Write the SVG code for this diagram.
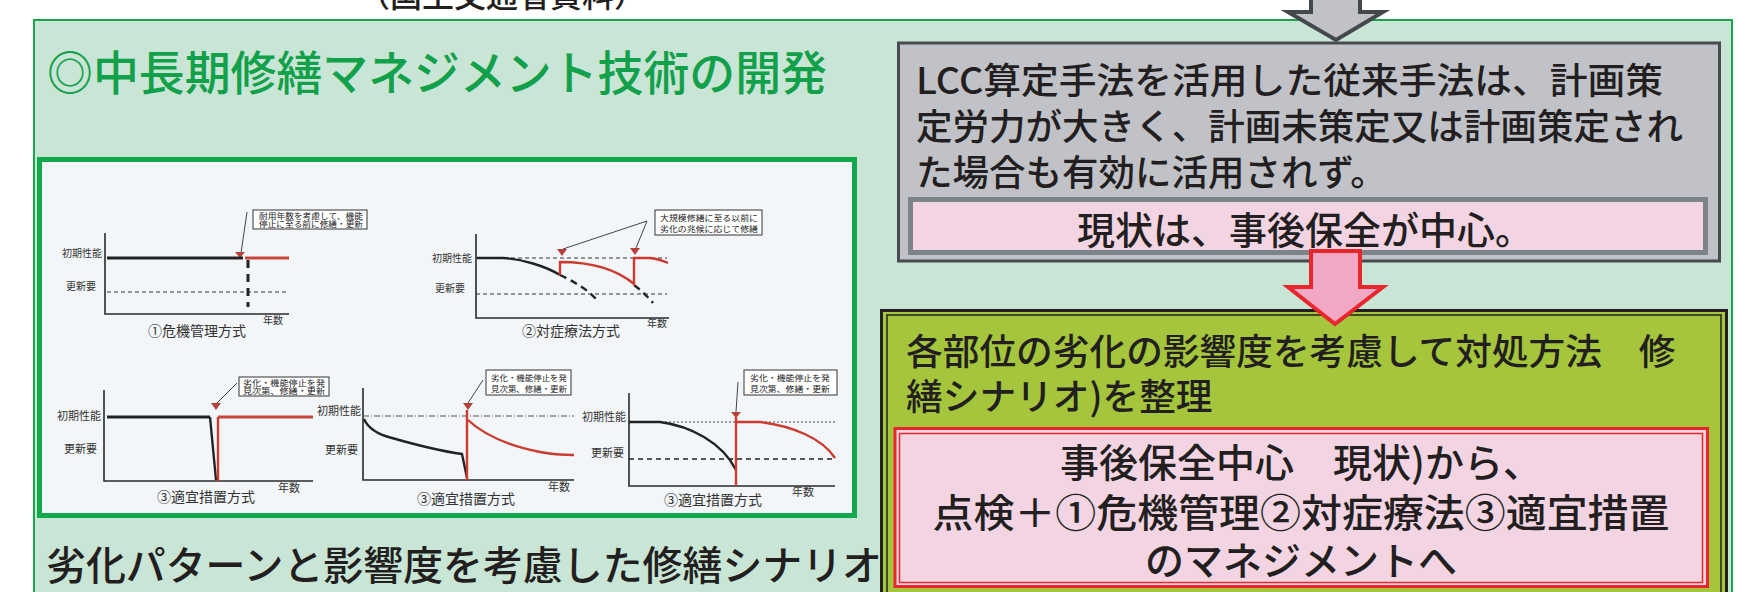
<svg xmlns="http://www.w3.org/2000/svg" width="1749" height="592" viewBox="0 0 1749 592">
<style>
.jp{font-family:"Noto Sans CJK JP","Noto Sans",sans-serif}
.big{font-weight:500}
.dk{fill:#231f20}
.ax{stroke:#2a2a2a;stroke-width:1.6;fill:none}
.dl{stroke:#333;stroke-width:1;stroke-dasharray:4 3;fill:none}
.bk{stroke:#222;stroke-width:2.4;fill:none}
.bk3{stroke:#222;stroke-width:3;fill:none}
.bkd{stroke:#222;stroke-width:3;stroke-dasharray:8 6;fill:none}
.rd{stroke:#cc3a30;stroke-width:2.4;fill:none}
.rd3{stroke:#c9443a;stroke-width:3;fill:none}
.tri{fill:#b8403a}
.cb{fill:#fff;stroke:#333;stroke-width:1}
.cl{stroke:#444;stroke-width:1}
.ct{font-size:8px;fill:#222}
.yl{font-size:11px;fill:#333}
.yls{font-size:10px;fill:#333}
.cap{font-size:14px;fill:#333}
</style>
<rect width="1749" height="592" fill="#fff"/>
<g id="source-note" class="jp big">
<text x="502" y="7" font-size="32" text-anchor="middle" class="dk">（国土交通省資料）</text>
</g>
<g id="outer-panel">
<rect x="34" y="20" width="1698" height="590" fill="#c9e5d5" stroke="#1aa64b" stroke-width="2"/>
</g>
<g id="title" class="jp big">
<text x="47" y="90" font-size="47" fill="#12a04b" textLength="780" lengthAdjust="spacingAndGlyphs">◎中長期修繕マネジメント技術の開発</text>
</g>
<g id="charts" class="jp">
<rect x="39.5" y="159.5" width="815" height="356" fill="#f3f6f8" stroke="#10a84a" stroke-width="5"/>
<g id="chart1">
<rect class="cb" x="253" y="210" width="114" height="19"/>
<text class="ct" x="259" y="219" textLength="104" lengthAdjust="spacingAndGlyphs">耐用年数を考慮して、機能</text>
<text class="ct" x="259" y="227" textLength="104" lengthAdjust="spacingAndGlyphs">停止に至る前に修繕・更新</text>
<line class="cl" x1="247" y1="212" x2="241" y2="253"/>
<polygon class="tri" points="235,252 245,252 240,258"/>
<polyline class="ax" points="105,233 105,314 289,314"/>
<text class="yls" x="102" y="257" text-anchor="end">初期性能</text>
<text class="yls" x="96" y="290" text-anchor="end">更新要</text>
<line class="dl" x1="107" y1="292" x2="289" y2="292"/>
<line class="bk3" x1="107" y1="258" x2="243" y2="258"/>
<line class="rd3" x1="245" y1="258" x2="289" y2="258"/>
<line class="bkd" x1="248" y1="260" x2="248" y2="307"/>
<text class="yls" x="263" y="324">年数</text>
<text class="cap" x="148" y="336">①危機管理方式</text>
</g>
<g id="chart2">
<rect class="cb" x="655" y="210" width="107" height="25"/>
<text class="ct" x="660" y="221" font-size="9" textLength="98" lengthAdjust="spacingAndGlyphs">大規模修繕に至る以前に</text>
<text class="ct" x="660" y="232" font-size="9" textLength="98" lengthAdjust="spacingAndGlyphs">劣化の兆候に応じて修繕</text>
<line class="cl" x1="647" y1="221" x2="563" y2="249"/>
<line class="cl" x1="647" y1="221" x2="636" y2="248"/>
<polygon class="tri" points="557,249 567,249 562,256"/>
<polygon class="tri" points="630,248 640,248 635,255"/>
<polyline class="ax" points="476,234 476,318 669,318"/>
<text class="yls" x="472" y="262" text-anchor="end">初期性能</text>
<text class="yls" x="465" y="292" text-anchor="end">更新要</text>
<line class="dl" x1="476" y1="258" x2="667" y2="258"/>
<line class="dl" x1="476" y1="294" x2="667" y2="294"/>
<path class="bk" d="M477,258 L503,258 C522,259 545,266 560,275"/>
<path class="bk" stroke-width="3" stroke-dasharray="7 5" d="M560,275 C575,282 588,290 596,299"/>
<path class="bk" stroke-width="3" stroke-dasharray="7 5" d="M634,285 C642,291 648,297 653,303"/>
<path class="rd" d="M560,275 L560,262 C590,262 615,268 634,284 L634,258 L650,258 C658,259 664,261 668,263"/>
<text class="yls" x="647" y="327">年数</text>
<text class="cap" x="522" y="336">②対症療法方式</text>
</g>
<g id="chart3">
<rect class="cb" x="239" y="377" width="90" height="19"/>
<text class="ct" x="243" y="386" textLength="82" lengthAdjust="spacingAndGlyphs">劣化・機能停止を発</text>
<text class="ct" x="243" y="394" textLength="82" lengthAdjust="spacingAndGlyphs">見次第、修繕・更新</text>
<line class="cl" x1="237" y1="383" x2="217" y2="403"/>
<polygon class="tri" points="211,403 221,403 216,410"/>
<polyline class="ax" points="104,390 104,481 313,481"/>
<text class="yl" x="101" y="420" text-anchor="end">初期性能</text>
<text class="yl" x="97" y="453" text-anchor="end">更新要</text>
<line class="bk3" x1="107" y1="417" x2="210" y2="417"/>
<line class="rd3" x1="218" y1="417" x2="313" y2="417"/>
<line class="bk" x1="210" y1="417" x2="216" y2="480"/>
<line class="rd" x1="218" y1="417" x2="218" y2="481"/>
<text class="yl" x="278" y="492" font-size="12">年数</text>
<text class="cap" x="157" y="502" font-size="13.5">③適宜措置方式</text>
</g>
<g id="chart4">
<rect class="cb" x="486" y="370" width="85" height="25"/>
<text class="ct" x="491" y="381" font-size="8.5" textLength="76" lengthAdjust="spacingAndGlyphs">劣化・機能停止を発</text>
<text class="ct" x="491" y="392" font-size="8.5" textLength="76" lengthAdjust="spacingAndGlyphs">見次第、修繕・更新</text>
<line class="cl" x1="483" y1="380" x2="468" y2="403"/>
<polygon class="tri" points="463,403 473,403 468,410"/>
<polyline class="ax" points="363,388 363,480 574,480"/>
<text class="yl" x="361" y="415" text-anchor="end">初期性能</text>
<text class="yl" x="358" y="454" text-anchor="end">更新要</text>
<line stroke="#555" stroke-width="1" stroke-dasharray="6 2 1 2" x1="363" y1="416" x2="574" y2="416"/>
<path class="bk" d="M364,419 C368,428 376,434 392,438 C420,446 440,451 462,454 L467,478"/>
<line class="rd" x1="467" y1="410" x2="467" y2="480"/>
<path class="rd" d="M468,420 C485,436 510,446 540,452 C555,455 565,455 574,455"/>
<text class="yl" x="548" y="491" font-size="12">年数</text>
<text class="cap" x="417" y="504" font-size="13.5">③適宜措置方式</text>
</g>
<g id="chart5">
<rect class="cb" x="744" y="370" width="93" height="25"/>
<text class="ct" x="750" y="381" font-size="8.5" textLength="80" lengthAdjust="spacingAndGlyphs">劣化・機能停止を発</text>
<text class="ct" x="750" y="392" font-size="8.5" textLength="80" lengthAdjust="spacingAndGlyphs">見次第、修繕・更新</text>
<line class="cl" x1="738" y1="382" x2="736" y2="412"/>
<polygon class="tri" points="731,412 741,412 736,418"/>
<polyline class="ax" points="629,393 629,486 835,486"/>
<text class="yl" x="626" y="421" text-anchor="end">初期性能</text>
<text class="yl" x="624" y="457" text-anchor="end">更新要</text>
<line stroke="#444" stroke-width="1" stroke-dasharray="2 2" x1="629" y1="422" x2="835" y2="422"/>
<line stroke="#222" stroke-width="1.3" stroke-dasharray="5 4" x1="629" y1="459" x2="835" y2="459"/>
<path class="bk" d="M629,422 L660,422 C690,426 722,442 736,470"/>
<line class="rd" x1="736" y1="417" x2="736" y2="486"/>
<path class="rd" d="M736,422 L760,422 C792,426 822,438 835,458"/>
<text class="yl" x="792" y="496" font-size="12">年数</text>
<text class="cap" x="664" y="505" font-size="13.5">③適宜措置方式</text>
</g>
</g>
<g id="caption" class="jp big">
<text x="46" y="580" font-size="40" class="dk" textLength="836" lengthAdjust="spacingAndGlyphs">劣化パターンと影響度を考慮した修繕シナリオ</text>
</g>
<g id="conventional" class="jp big">
<rect x="898.5" y="43" width="821" height="218" fill="#c0c2c8" stroke="#474b4f" stroke-width="3"/>
<text x="916" y="94" font-size="36" class="dk" textLength="747" lengthAdjust="spacingAndGlyphs">LCC算定手法を活用した従来手法は、計画策</text>
<text x="916" y="140" font-size="36" class="dk" textLength="767" lengthAdjust="spacingAndGlyphs">定労力が大きく、計画未策定又は計画策定され</text>
<text x="916" y="186" font-size="36.5" class="dk">た場合も有効に活用されず。</text>
</g>
<g id="current" class="jp big">
<rect x="910.5" y="199.5" width="795" height="53" fill="#f2d4e2" stroke="#7d8489" stroke-width="5"/>
<text x="1305" y="244" font-size="38" text-anchor="middle" class="dk">現状は、事後保全が中心。</text>
</g>
<g id="scenario" class="jp big">
<rect x="881.5" y="310.5" width="845" height="300" fill="#a4c53c" stroke="#231f20" stroke-width="3"/>
<rect x="887" y="315" width="834" height="300" fill="none" stroke="#231f20" stroke-width="1.5"/>
<text x="906" y="365" font-size="36.7" class="dk">各部位の劣化の影響度を考慮して対処方法　修</text>
<text x="906" y="410" font-size="36.7" class="dk">繕シナリオ)を整理</text>
</g>
<g id="management" class="jp big">
<rect x="895" y="428.5" width="812.5" height="158" fill="#f2d4e2" stroke="#e8262c" stroke-width="3"/>
<rect x="899.5" y="433.5" width="803" height="149" fill="none" stroke="#e8262c" stroke-width="1.5"/>
<text x="1301" y="477" font-size="39" text-anchor="middle" class="dk">事後保全中心　現状)から、</text>
<text x="1301" y="527" font-size="39" text-anchor="middle" class="dk" textLength="737" lengthAdjust="spacingAndGlyphs">点検＋①危機管理②対症療法③適宜措置</text>
<text x="1301" y="575" font-size="39" text-anchor="middle" class="dk">のマネジメントへ</text>
</g>
<g id="connectors">
<polygon points="1311,-6 1360,-6 1360,12 1383,12 1336,40 1288,12 1311,12" fill="#c0c2c8" stroke="#43484c" stroke-width="4" stroke-linejoin="miter"/>
<polygon points="1311,251 1360,251 1360,287 1383,287 1335,324 1288,287 1311,287" fill="#f2a7c4" stroke="#e8262c" stroke-width="4" stroke-linejoin="miter"/>
</g>
</svg>
